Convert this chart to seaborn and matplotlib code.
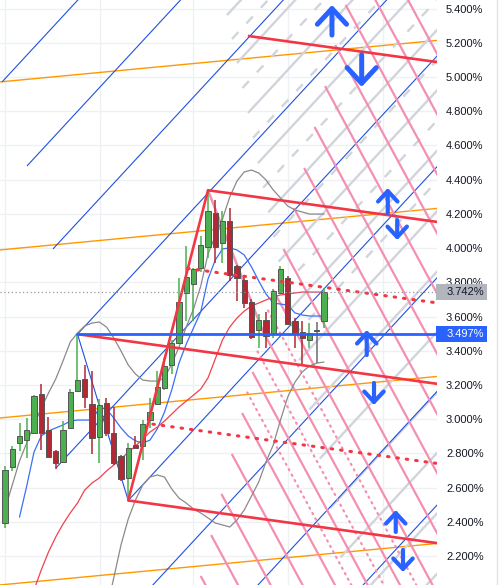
import numpy as np
import pandas as pd
import seaborn as sns
import matplotlib
matplotlib.use("Agg")
import matplotlib.pyplot as plt
import matplotlib.transforms as mtransforms
from matplotlib.patches import Rectangle
from matplotlib.lines import Line2D
from matplotlib.ticker import FuncFormatter

# ---- weekly candles (yield, %) ----
opens = [2.394, 2.722, 2.862, 2.880, 2.921, 3.149, 2.938, 2.815, 2.751, 2.950,
         3.166, 3.237, 3.090, 2.897, 3.096, 2.921, 2.786, 2.658, 2.850, 2.845,
         2.997, 3.090, 3.184, 3.318, 3.447, 3.739, 3.792, 3.886, 4.008, 4.207,
         4.027, 4.160, 3.898, 3.815, 3.687, 3.523, 3.582, 3.500, 3.739, 3.827,
         3.576, 3.511, 3.465, 3.517, 3.576]
highs = [2.728, 2.845, 2.979, 3.008, 3.143, 3.207, 3.014, 2.821, 2.991, 3.178,
         3.497, 3.318, 3.283, 3.120, 3.125, 3.073, 2.790, 2.862, 2.903, 2.997,
         3.125, 3.283, 3.359, 3.460, 3.827, 4.014, 3.886, 4.073, 4.338, 4.283,
         4.219, 4.236, 3.900, 3.830, 3.700, 3.617, 3.628, 3.760, 3.897, 3.835,
         3.590, 3.576, 3.564, 3.570, 3.769]
lows = [2.365, 2.700, 2.815, 2.774, 2.915, 2.821, 2.774, 2.710, 2.745, 2.945,
        3.160, 3.067, 2.798, 2.745, 2.903, 2.733, 2.640, 2.525, 2.830, 2.763,
        2.950, 3.085, 3.170, 3.266, 3.440, 3.576, 3.576, 3.860, 3.940, 3.915,
        3.915, 3.810, 3.693, 3.652, 3.470, 3.418, 3.418, 3.476, 3.730, 3.550,
        3.418, 3.324, 3.418, 3.330, 3.535]
closes = [2.704, 2.827, 2.903, 2.938, 3.137, 2.921, 2.780, 2.745, 2.938, 3.160,
          3.231, 3.131, 2.891, 3.084, 2.921, 2.745, 2.652, 2.833, 2.833, 2.973,
          3.043, 3.190, 3.313, 3.447, 3.687, 3.833, 3.880, 4.020, 4.219, 4.008,
          4.160, 3.845, 3.827, 3.681, 3.482, 3.582, 3.488, 3.751, 3.880, 3.558,
          3.505, 3.476, 3.505, 3.517, 3.742]

# ---- indicators ----
ma_fast = [2.428, 2.610, 2.808, 2.902, 2.931, 2.949, 2.966, 2.989, 2.995, 2.995,
           2.995, 3.065, 3.060, 3.007, 2.949, 2.902, 2.873, 2.861, 2.878, 2.943,
           3.042, 3.171, 3.328, 3.439, 3.533, 3.627, 3.819, 3.930, 3.995, 4.001,
           3.989, 3.960, 3.890, 3.808, 3.732, 3.679, 3.673, 3.667, 3.621, 3.609,
           3.603, 3.603, 3.603]          # bars 2..44
ma_slow = [2.002, 2.119, 2.224, 2.312, 2.387, 2.452, 2.510, 2.586, 2.627, 2.656,
           2.697, 2.732, 2.767, 2.808, 2.843, 2.884, 2.925, 2.954, 2.989, 3.030,
           3.071, 3.106, 3.141, 3.176, 3.241, 3.352, 3.463, 3.539, 3.591, 3.632,
           3.662, 3.679, 3.697, 3.714, 3.726, 3.732, 3.738, 3.743, 3.743, 3.743,
           3.743]                         # bars 4..44
bb_upper = [2.475, 2.615, 2.756, 2.861, 2.966, 3.065, 3.153, 3.235, 3.340, 3.451,
            3.504, 3.545, 3.562, 3.568, 3.539, 3.475, 3.399, 3.317, 3.264, 3.229,
            3.223, 3.223, 3.241, 3.323, 3.422, 3.539, 3.644, 3.778, 3.965, 4.071,
            4.170, 4.299, 4.392, 4.445, 4.456, 4.439, 4.398, 4.340, 4.293, 4.246,
            4.223, 4.211, 4.199, 4.199, 4.199]   # bars 0..44
bb_lower = [1.885, 2.072, 2.265, 2.417, 2.528, 2.615, 2.662, 2.674, 2.662, 2.592,
            2.539, 2.510, 2.475, 2.452, 2.423, 2.393, 2.382, 2.370, 2.411, 2.469,
            2.551, 2.633, 2.750, 2.849, 2.995, 3.130, 3.217, 3.276, 3.311, 3.328,
            3.334]                        # bars 14..44

# ---- drawing anchors (bar index, %) ----
pivot_x = [10, 28, 17]
pivot_y = [3.497, 4.338, 2.525]
last_price = 3.742

red_slope = -0.00585
red_start_x = [33.5, 28, 10, 17]
red_start_y = [5.240, 4.338, 3.497, 2.525]
red_mid_x = [25.2, 20.4]
red_mid_y = [3.881, 2.971]

blue_slope = 0.0458
blue_start_x = [-0.41, 3.03, 6.62, 10, 7.03, 17, 19.5, 34.0, 48.5]
blue_start_y = [4.971, 4.480, 3.995, 3.497, 2.715, 2.525, 1.99, 1.99, 1.99]

grey_start_x = [30.62, 32.0, 33.52, 34.9, 36.32, 37.74, 39.16, 40.58, 42.0,
                43.42, 44.84, 46.26, 47.68, 49.1]
grey_start_y = [5.362, 5.082, 4.790, 4.497, 4.209, 3.921, 3.633, 3.345, 3.057,
                2.769, 2.480, 2.192, 1.904, 1.616]
grey_mid_x = [31.31, 32.76, 34.21, 35.61, 37.03, 38.45, 39.87]
grey_mid_y = [5.222, 4.936, 4.644, 4.353, 4.065, 3.777, 3.489]

pink_slope = -0.0784
pink_start_x = [49.85, 48.41, 46.99, 45.56, 44.14, 42.70, 41.27, 39.85, 38.41,
                36.99, 35.56, 34.14, 32.70, 31.28, 29.85, 28.43, 26.99]
pink_start_y = [5.900, 5.660, 5.421, 5.187, 4.947, 4.708, 4.468, 4.234, 3.995,
                3.755, 3.515, 3.276, 3.036, 2.797, 2.563, 2.323, 2.084]
pink_dot_x = [36.28, 34.84, 33.42]
pink_dot_y = [3.635, 3.396, 3.156]
pink_handle_end = (35.56, 3.515)

orange_slope = 0.004025
orange_y0 = [4.974, 3.992, 3.010, 2.034]

arrow_x = [45.1, 49.2, 52.8, 54.1, 49.9, 50.9, 53.9, 54.9]
arrow_tail = [5.245, 5.129, 4.205, 4.164, 3.375, 3.212, 2.341, 2.236]
arrow_tip = [5.421, 4.942, 4.351, 4.047, 3.521, 3.083, 2.469, 2.107]
arrow_big = [True, True, False, False, False, False, False, False]

vgrid_x = [0, 13.1, 25.9, 39.0, 52.1]
ytick_vals = [2.2, 2.4, 2.6, 2.8, 3.0, 3.2, 3.4, 3.6, 3.8, 4.0, 4.2, 4.4,
              4.6, 4.8, 5.0, 5.2, 5.4]

# ---- colours ----
GREEN = "#4CAF50"
RED_C = "#B22833"
RED = "#F23645"
PINK = "#F48FB1"
GREY_L = "#D1D4DC"
BLUE = "#2962FF"
BLUE_T = "#2050E0"
ORANGE = "#FF9800"
TEXT = "#131722"

sns.set_theme(style="white")
plt.rcParams["font.family"] = ["Liberation Sans", "DejaVu Sans"]

fig = plt.figure(figsize=(5, 5.85), dpi=100)
ax = fig.add_axes([0, 0, 437 / 500, 1])
X_END = 75


def ray(x0, y0, slope, **kw):
    ax.plot([x0, X_END], [y0, y0 + slope * (X_END - x0)], solid_capstyle="butt", **kw)


# grid
for v in ytick_vals:
    ax.axhline(v, color="#EEF0F4", lw=1, zorder=0)
for v in vgrid_x:
    ax.axvline(v, color="#EEF0F4", lw=1, zorder=0)

# orange channel
for y0 in orange_y0:
    ax.plot([-2, X_END], [y0 - 2 * orange_slope, y0 + orange_slope * X_END],
            color=ORANGE, lw=1, zorder=2)

# grey fan lines and dashed mid lines
for x0, y0 in zip(grey_start_x, grey_start_y):
    ray(x0, y0, blue_slope, color=GREY_L, lw=1.7, zorder=2)
for x0, y0 in zip(grey_mid_x, grey_mid_y):
    ray(x0, y0, blue_slope, color=GREY_L, lw=1.7, dashes=(4, 5), zorder=2)

# blue parallel lines
for x0, y0 in zip(blue_start_x, blue_start_y):
    ray(x0, y0, blue_slope, color=BLUE_T, lw=0.8, zorder=2.2)
ax.plot([pivot_x[0], pivot_x[2]], [pivot_y[0], pivot_y[2]], color=BLUE_T, lw=0.8, zorder=2.2)

# pink lines
for x0, y0 in zip(pink_start_x, pink_start_y):
    ray(x0, y0, pink_slope, color=PINK, lw=1.6, zorder=2.4)
for x0, y0 in zip(pink_dot_x, pink_dot_y):
    ray(x0, y0, pink_slope, color=PINK, lw=1.6, dashes=(0.6, 2.2),
        dash_capstyle="round", zorder=2.4)
ax.plot([pivot_x[1], pink_handle_end[0]], [pivot_y[1], pink_handle_end[1]],
        color=PINK, lw=1.8, zorder=2.4)

# indicators
ind = pd.DataFrame({"bar": np.arange(2, 45), "val": ma_fast})
sns.lineplot(data=ind, x="bar", y="val", color="#3A6FF7", lw=0.9, ax=ax, zorder=3)
ind = pd.DataFrame({"bar": np.arange(4, 45), "val": ma_slow})
sns.lineplot(data=ind, x="bar", y="val", color="#F0414F", lw=0.9, ax=ax, zorder=3)
ind = pd.DataFrame({"bar": np.arange(0, 45), "val": bb_upper})
sns.lineplot(data=ind, x="bar", y="val", color="#8A8A8A", lw=0.9, ax=ax, zorder=3)
ind = pd.DataFrame({"bar": np.arange(14, 45), "val": bb_lower})
sns.lineplot(data=ind, x="bar", y="val", color="#8A8A8A", lw=0.9, ax=ax, zorder=3)

# candles
bars = np.arange(len(opens))
for i, o, h, l, c in zip(bars, opens, highs, lows, closes):
    if c > o:
        col = GREEN
    elif c < o:
        col = RED_C
    else:
        col = "#6B6B6B"
    ax.vlines(i, l, h, color=col, lw=1.1, zorder=3.5)
    ax.bar(i, max(abs(c - o), 0.006), bottom=min(o, c) - (0.003 if c == o else 0),
           width=0.72, color=col, edgecolor="#555555", lw=0.7, zorder=3.6)

# red channel
for x0, y0 in zip(red_start_x, red_start_y):
    ray(x0, y0, red_slope, color=RED, lw=1.9, zorder=4)
for x0, y0 in zip(red_mid_x, red_mid_y):
    ray(x0, y0, red_slope, color=RED, lw=2.2, dashes=(0.5, 2.6),
        dash_capstyle="round", zorder=4)
ax.plot([pivot_x[2], pivot_x[1]], [pivot_y[2], pivot_y[1]], color=RED, lw=1.9, zorder=4)

# horizontal levels
ax.plot([pivot_x[0], X_END], [pivot_y[0], pivot_y[0]], color=BLUE, lw=2, zorder=4.2)
ax.axhline(last_price, color="#9598A1", lw=0.9, ls=(0, (1, 2)), zorder=4.1)

# arrows
for x, t0, t1, big in zip(arrow_x, arrow_tail, arrow_tip, arrow_big):
    ms = 15 if big else 10
    ax.annotate("", xy=(x, t1), xytext=(x, t0),
                arrowprops=dict(arrowstyle="->,head_length=0.75,head_width=0.7",
                                color=BLUE, lw=3.6 if big else 3.0, mutation_scale=ms,
                                shrinkA=0, shrinkB=0, capstyle="round",
                                joinstyle="round"),
                zorder=5)

ax.set_xlim(-0.69, 59.59)
ax.set_ylim(2.031, 5.450)
ax.set_xlabel("")
ax.set_ylabel("")
ax.set_xticks([])
ax.yaxis.tick_right()
ax.set_yticks(ytick_vals)
ax.yaxis.set_major_formatter(FuncFormatter(lambda v, p: f"{v:.3f}%"))
ax.tick_params(axis="y", length=0, pad=6.5, labelsize=8, labelcolor=TEXT)
for s in ax.spines.values():
    s.set_visible(False)

# price tags on the scale
trans = mtransforms.blended_transform_factory(ax.transAxes, ax.transData)
tag_h = 16 / 171.1
for val, bg, fg in [(last_price, "#B2B5BE", TEXT), (pivot_y[0], BLUE, "white")]:
    ax.add_patch(Rectangle((0.998, val - tag_h / 2), 51 / 437, tag_h, transform=trans,
                           facecolor=bg, edgecolor="none", clip_on=False, zorder=6))
    ax.text(1 + 9.5 / 437, val, f"{val:.3f}%", transform=trans, ha="left", va="center",
            fontsize=8, color=fg, clip_on=False, zorder=7)
ax.text(1 + 9.5 / 437, 2.0, "2.000%", transform=trans, ha="left", va="center",
        fontsize=8, color=TEXT, clip_on=False)

fig.add_artist(Line2D([497 / 500, 497 / 500], [0, 1], transform=fig.transFigure,
                      color="#E0E3EB", lw=1))

fig.savefig("out.png", dpi=100)
